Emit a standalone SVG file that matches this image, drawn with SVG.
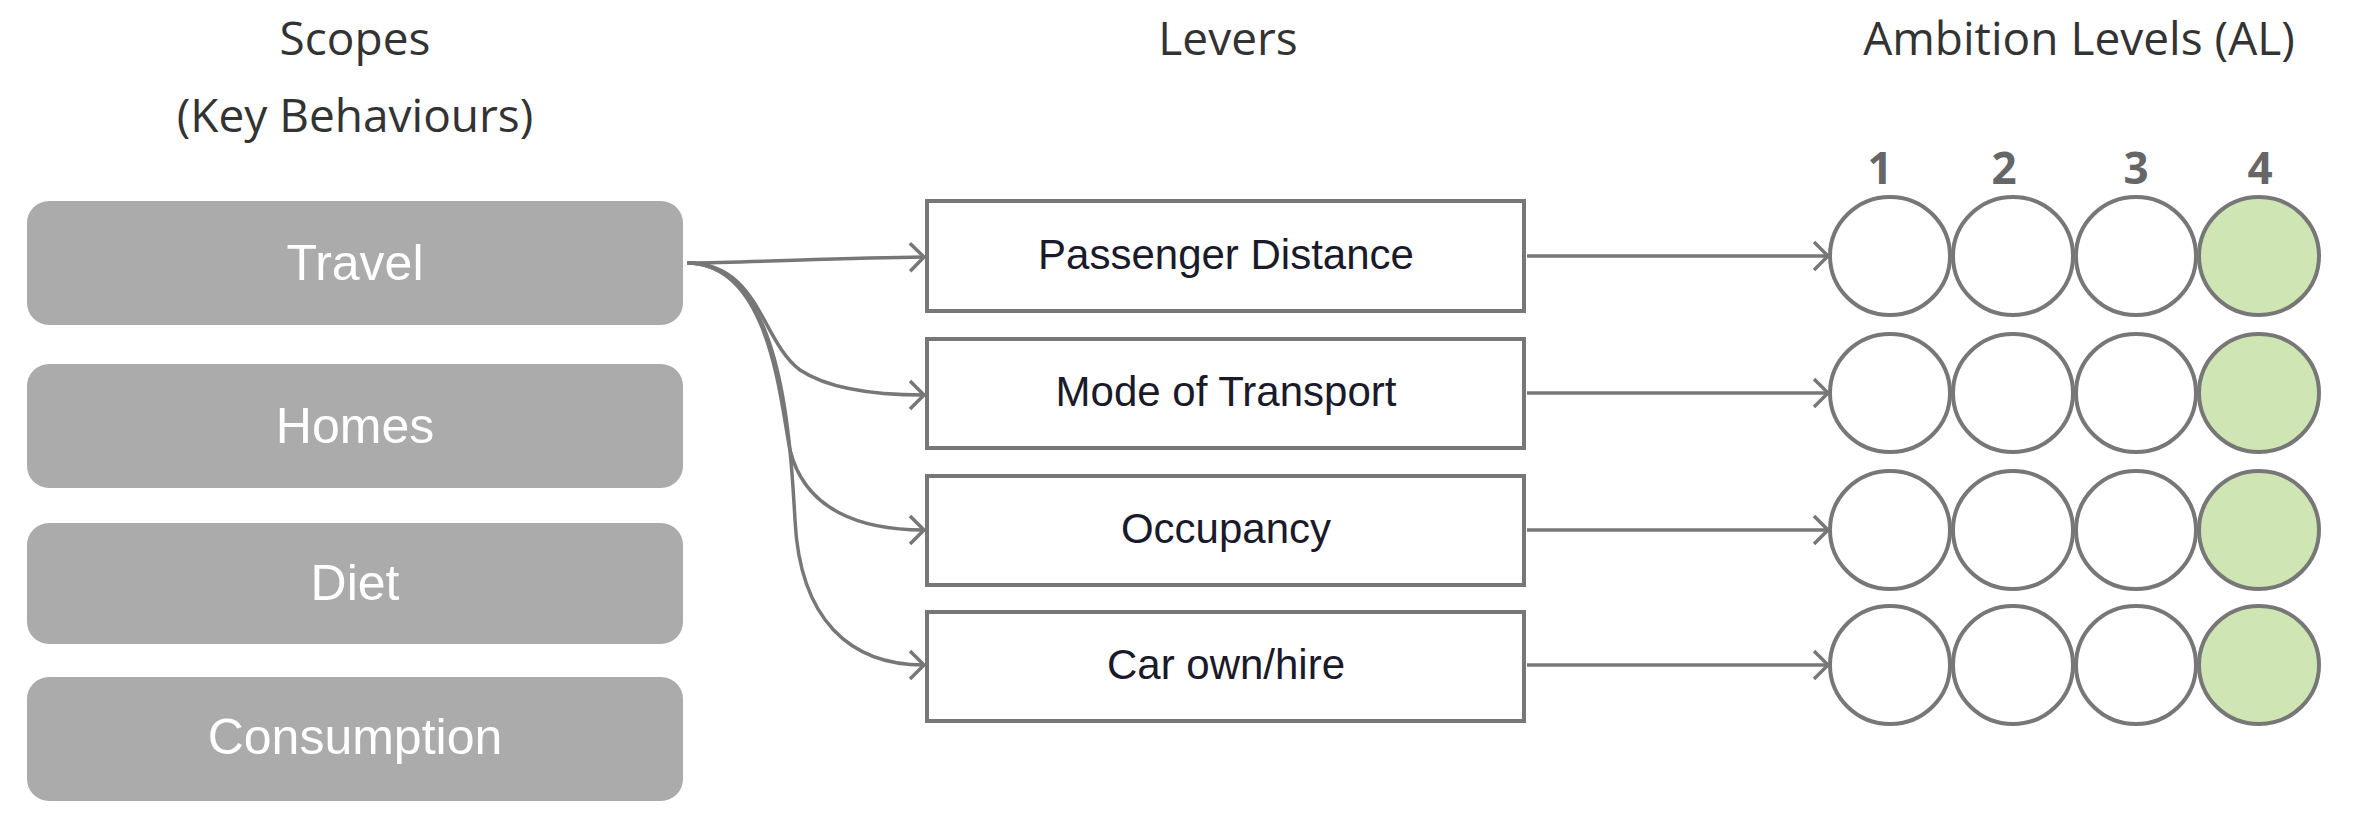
<svg xmlns="http://www.w3.org/2000/svg" width="2371" height="822" viewBox="0 0 2371 822">
<style>
.title{font-family:"Open Sans",sans-serif;font-size:46px;fill:#333;text-anchor:middle}
.scope rect{fill:#ababab}
.scope text{font-family:"Liberation Sans",Arial,sans-serif;font-size:50px;fill:#fff;text-anchor:middle}
.lever rect{fill:#fff;stroke:#777;stroke-width:4}
.lever text{font-family:"Liberation Sans",Arial,sans-serif;font-size:42px;fill:#1a1a2a;text-anchor:middle}
.c{fill:#fff;stroke:#777;stroke-width:4}
.g{fill:#cfe6b4;stroke:#777;stroke-width:4}
.num{font-family:"Open Sans",sans-serif;font-size:44px;font-weight:bold;fill:#666;text-anchor:middle}
.conn path{fill:none;stroke:#777;stroke-width:3.5;marker-end:url(#a)}
</style>
<defs>
<marker id="a" markerWidth="18" markerHeight="32" refX="16" refY="16" orient="auto" markerUnits="userSpaceOnUse"><path d="M2,2 L16,16 L2,30" fill="none" stroke="#777" stroke-width="3.5"/></marker>
</defs>
<text class="title" x="355" y="55">Scopes</text>
<text class="title" x="355" y="132">(Key Behaviours)</text>
<text class="title" x="1228" y="55">Levers</text>
<text class="title" x="2079" y="55">Ambition Levels (AL)</text>
<g id="scope-travel" class="scope"><rect x="27" y="201" width="656" height="124" rx="22"/><text x="355" y="280">Travel</text></g>
<g id="scope-homes" class="scope"><rect x="27" y="364" width="656" height="124" rx="22"/><text x="355" y="443">Homes</text></g>
<g id="scope-diet" class="scope"><rect x="27" y="523" width="656" height="121" rx="22"/><text x="355" y="600">Diet</text></g>
<g id="scope-consumption" class="scope"><rect x="27" y="677" width="656" height="124" rx="22"/><text x="355" y="754">Consumption</text></g>
<g id="lever-1" class="lever"><rect x="927" y="201" width="597" height="110" /><text x="1226" y="269">Passenger Distance</text></g>
<g id="lever-2" class="lever"><rect x="927" y="339" width="597" height="109" /><text x="1226" y="406">Mode of Transport</text></g>
<g id="lever-3" class="lever"><rect x="927" y="476" width="597" height="109" /><text x="1226" y="543">Occupancy</text></g>
<g id="lever-4" class="lever"><rect x="927" y="612" width="597" height="109" /><text x="1226" y="679">Car own/hire</text></g>
<g id="levels">
<text class="num" x="1880" y="184">1</text><text class="num" x="2004" y="184">2</text><text class="num" x="2136" y="184">3</text><text class="num" x="2260" y="184">4</text>
<g id="row1"><ellipse class="c" cx="1890" cy="256" rx="60" ry="59"/><ellipse class="c" cx="2013" cy="256" rx="60" ry="59"/><ellipse class="c" cx="2136" cy="256" rx="60" ry="59"/><ellipse class="g" cx="2259" cy="256" rx="60" ry="59"/></g>
<g id="row2"><ellipse class="c" cx="1890" cy="393" rx="60" ry="59"/><ellipse class="c" cx="2013" cy="393" rx="60" ry="59"/><ellipse class="c" cx="2136" cy="393" rx="60" ry="59"/><ellipse class="g" cx="2259" cy="393" rx="60" ry="59"/></g>
<g id="row3"><ellipse class="c" cx="1890" cy="530" rx="60" ry="59"/><ellipse class="c" cx="2013" cy="530" rx="60" ry="59"/><ellipse class="c" cx="2136" cy="530" rx="60" ry="59"/><ellipse class="g" cx="2259" cy="530" rx="60" ry="59"/></g>
<g id="row4"><ellipse class="c" cx="1890" cy="665" rx="60" ry="59"/><ellipse class="c" cx="2013" cy="665" rx="60" ry="59"/><ellipse class="c" cx="2136" cy="665" rx="60" ry="59"/><ellipse class="g" cx="2259" cy="665" rx="60" ry="59"/></g>
</g>
<g id="connectors" class="conn">
<path d="M687,263 C760,262 840,258 924,257"/>
<path d="M687,263 C760,263 760,340 800,370 C830,390 880,395 924,395"/>
<path d="M687,263 C770,263 780,400 790,450 C805,510 860,530 924,530"/>
<path d="M687,263 C780,263 790,430 795,520 C800,620 850,665 924,665"/>
<path d="M1527,256 L1828,256"/>
<path d="M1527,393 L1828,393"/>
<path d="M1527,530 L1828,530"/>
<path d="M1527,665 L1828,665"/>
</g>
</svg>
